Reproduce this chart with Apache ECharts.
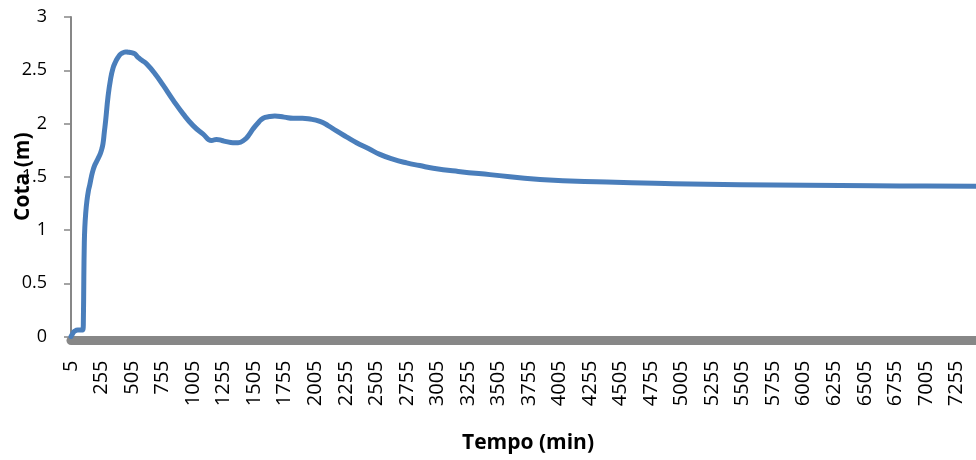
<!DOCTYPE html>
<html>
<head>
<meta charset="utf-8">
<script src="https://cdn.jsdelivr.net/npm/echarts@6/dist/echarts.min.js"></script>
<style>
  html, body { margin: 0; padding: 0; background: #fff; }
  #chart { width: 976px; height: 460px; }
</style>
</head>
<body>
<div id="chart"></div>
<script>
// Time (min) and water level (m)
const times = [5, 20, 35, 60, 90, 103, 106, 110, 114, 118, 125, 135, 148, 158, 172, 185, 200, 213, 230, 246, 257, 267, 278, 289, 308, 328, 349, 370, 390, 410, 431, 452, 472, 500, 527, 554, 590, 623, 691, 759, 841, 923, 1005, 1087, 1155, 1196, 1240, 1278, 1330, 1373, 1428, 1460, 1496, 1540, 1578, 1630, 1674, 1750, 1824, 1900, 1947, 2043, 2110, 2179, 2260, 2343, 2440, 2534, 2640, 2753, 2860, 2971, 3176, 3435, 3845, 4392, 4937, 5483, 6030, 6576, 7000, 7415];
const levels = [0.0, 0.03, 0.05, 0.06, 0.06, 0.065, 0.12, 0.55, 0.88, 1.02, 1.15, 1.27, 1.37, 1.42, 1.5, 1.56, 1.61, 1.64, 1.68, 1.72, 1.76, 1.81, 1.92, 2.03, 2.25, 2.41, 2.52, 2.58, 2.62, 2.65, 2.665, 2.672, 2.67, 2.665, 2.655, 2.62, 2.59, 2.56, 2.47, 2.36, 2.22, 2.09, 1.98, 1.9, 1.84, 1.85, 1.84, 1.83, 1.82, 1.82, 1.85, 1.89, 1.95, 2.01, 2.05, 2.065, 2.07, 2.06, 2.05, 2.05, 2.045, 2.02, 1.98, 1.93, 1.875, 1.82, 1.765, 1.71, 1.665, 1.63, 1.605, 1.58, 1.55, 1.52, 1.475, 1.45, 1.435, 1.425, 1.42, 1.415, 1.413, 1.41];
const xTickLabels = [5, 255, 505, 755, 1005, 1255, 1505, 1755, 2005, 2255, 2505, 2755, 3005, 3255, 3505, 3755, 4005, 4255, 4505, 4755, 5005, 5255, 5505, 5755, 6005, 6255, 6505, 6755, 7005, 7255];
const xMin = 5, xMax = 7415;
const yMin = 0, yMax = 3, yStep = 0.5;

const seriesData = times.map((t, i) => [t, levels[i]]);

const chart = echarts.init(document.getElementById('chart'), null, { renderer: 'canvas' });
chart.setOption({
  animation: false,
  backgroundColor: '#ffffff',
  textStyle: { fontFamily: 'Open Sans' },
  grid: { left: 71, right: 0, top: 17, bottom: 123.5, containLabel: false },
  xAxis: {
    type: 'value',
    min: xMin,
    max: xMax,
    offset: 4,
    name: 'Tempo (min)',
    nameLocation: 'middle',
    nameGap: 92,
    nameMoveOverlap: false,
    nameTextStyle: { fontFamily: 'Open Sans', fontWeight: 'bold', fontSize: 21, color: '#000', padding: [0, 0, 0, 9] },
    axisLine: { show: true, onZero: false, lineStyle: { color: '#878787', width: 9 } },
    axisTick: { show: false },
    splitLine: { show: false },
    axisLabel: {
      customValues: xTickLabels,
      formatter: v => String(v),
      rotate: 90,
      margin: 20,
      fontSize: 20,
      fontFamily: 'Open Sans',
      color: '#000'
    }
  },
  yAxis: {
    type: 'value',
    min: yMin,
    max: yMax,
    interval: yStep,
    name: 'Cota (m)',
    nameLocation: 'middle',
    nameGap: 37,
    nameRotate: 90,
    nameMoveOverlap: false,
    nameTextStyle: { fontFamily: 'Open Sans', fontWeight: 'bold', fontSize: 21, color: '#000' },
    axisLine: { show: true, lineStyle: { color: '#878787', width: 2 } },
    axisTick: { show: true, length: 7, lineStyle: { color: '#878787', width: 1.5 } },
    splitLine: { show: false },
    axisLabel: { margin: 24, fontSize: 18, fontFamily: 'Open Sans', color: '#000', formatter: v => String(v) }
  },
  series: [{
    type: 'line',
    data: seriesData,
    showSymbol: false,
    smooth: 0.5,
    lineStyle: { color: '#4a7ebb', width: 5, cap: 'round', join: 'round' },
    z: 3
  }]
});
</script>
</body>
</html>
